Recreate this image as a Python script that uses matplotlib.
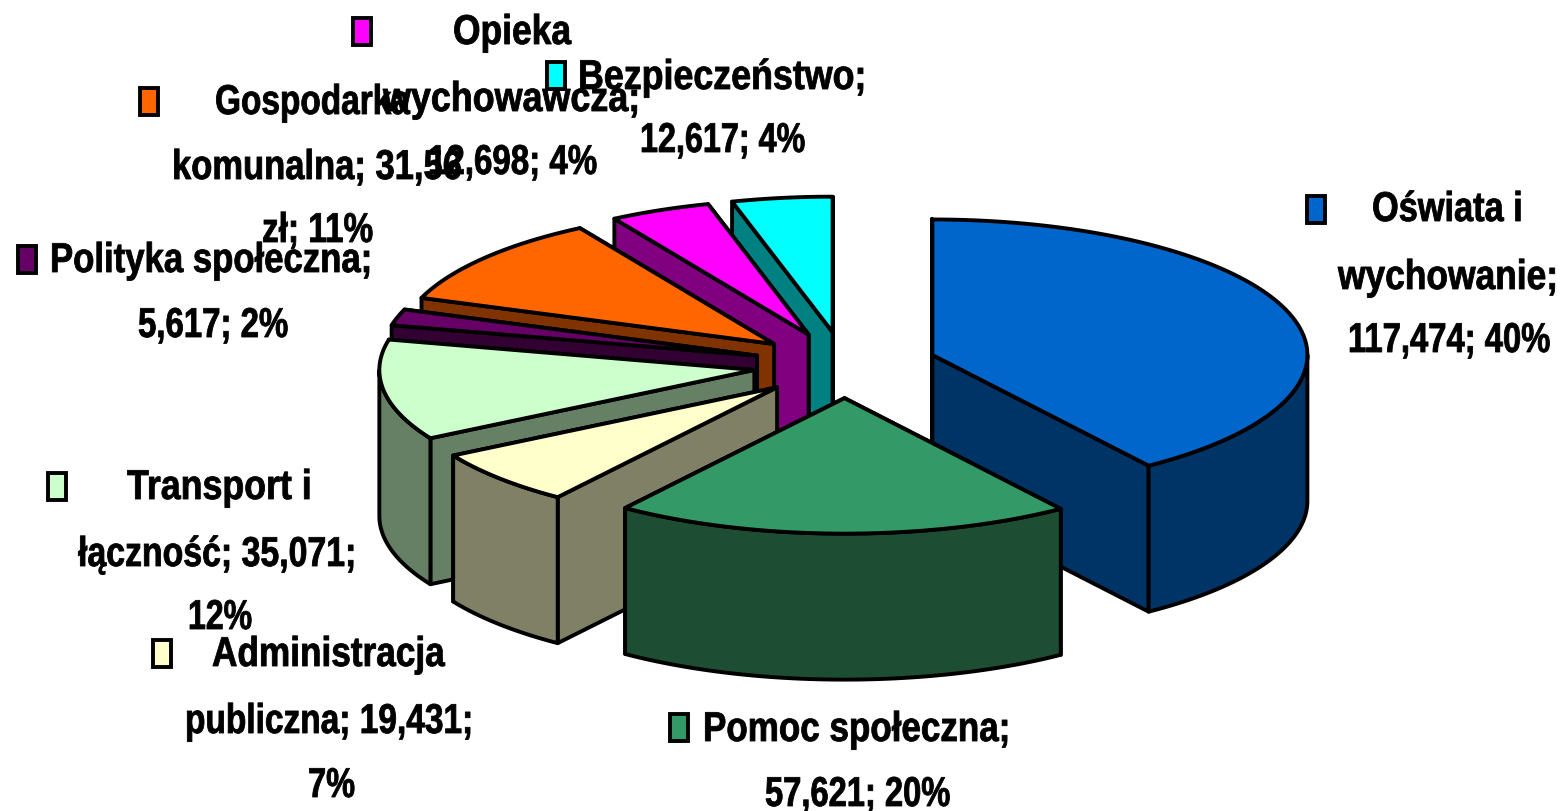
import numpy as np
import matplotlib
matplotlib.use("Agg")
import matplotlib.pyplot as plt
from matplotlib.patches import Polygon, Rectangle
from matplotlib.patheffects import AbstractPathEffect
from matplotlib.transforms import Affine2D

# ---- data ----
categories = ["Oświata i wychowanie", "Pomoc społeczna", "Administracja publiczna",
              "Transport i łączność", "Polityka społeczna", "Gospodarka komunalna",
              "Opieka wychowawcza", "Bezpieczeństwo"]
values = [117474, 57621, 19431, 35071, 5617, 31560, 12698, 12617]
top_colors = ["#0066CC", "#339966", "#FFFFCC", "#CCFFCC", "#660066", "#FF6600", "#FF00FF", "#00FFFF"]
side_colors = ["#003366", "#1D4D33", "#808066", "#668066", "#330033", "#803300", "#800080", "#008080"]
label_lines = [
    ["Oświata i", "wychowanie;", "117,474; 40%"],
    ["Pomoc społeczna;", "57,621; 20%"],
    ["Administracja", "publiczna; 19,431;", "7%"],
    ["Transport i", "łączność; 35,071;", "12%"],
    ["Polityka społeczna;", "5,617; 2%"],
    ["Gospodarka", "komunalna; 31,56", "zł; 11%"],
    ["Opieka", "wychowawcza;", "12,698; 4%"],
    ["Bezpieczeństwo;", "12,617; 4%"],
]
# ---- layout: (left px, right px, vertical centre px) of each text line ----
line_span = [
    [(1372, 1523, 210), (1338, 1558, 278), (1348, 1550, 341)],
    [(703, 1010, 730), (765, 950, 795)],
    [(212, 445, 655), (185, 473, 722), (308, 355, 786)],
    [(127, 312, 488), (78, 356, 555), (188, 252, 618)],
    [(50, 372, 261), (138, 288, 326)],
    [(215, 410, 103), (172, 462, 168), (262, 373, 231)],
    [(453, 571, 33), (383, 640, 100), (428, 597, 163)],
    [(578, 866, 78), (640, 805, 141)],
]
key_xy = [(1307, 196), (670, 714), (153, 640), (48, 473), (18, 246), (140, 88), (353, 18), (547, 62)]
CX, CY, RX, RY, DEPTH, EXPLODE = 845, 365, 375, 135.5, 146, 0.2445
LW = 2.8
FONT_PT = 30


class Condense(AbstractPathEffect):
    """Squeeze a text horizontally about its centre so that it fills a given width."""

    def __init__(self, text, target_width):
        super().__init__()
        self.text = text
        self.target = target_width

    def draw_path(self, renderer, gc, tpath, affine, rgbFace=None):
        box = self.text.get_window_extent(renderer)
        c = (box.x0 + box.x1) / 2
        s = self.target / box.width
        squeeze = Affine2D().translate(-c, 0).scale(s, 1).translate(c, 0)
        gc0 = renderer.new_gc()
        gc0.copy_properties(gc)
        gc0.set_linewidth(0.6)
        gc0.set_foreground("black")
        renderer.draw_path(gc0, tpath, affine + squeeze, rgbFace)
        gc0.restore()


fig = plt.figure(figsize=(15.65, 8.11), dpi=100)
ax = fig.add_axes([0, 0, 1, 1])
ax.set_xlim(0, 1565)
ax.set_ylim(811, 0)
ax.axis("off")

fractions = np.array(values, dtype=float) / np.sum(values)
edges = np.concatenate([[0], np.cumsum(fractions) * 2 * np.pi])


def rim(tx, ty, th):
    return np.column_stack([tx + RX * np.sin(th), ty - RY * np.cos(th)])


def face(pts, color, z):
    ax.add_patch(Polygon(pts, closed=True, facecolor=color, edgecolor="black",
                         linewidth=LW, joinstyle="round", zorder=z))


order = [7, 6, 5, 4, 3, 2, 0, 1]
for rank, i in enumerate(order):
    a0, a1 = edges[i], edges[i + 1]
    mid = (a0 + a1) / 2
    tx = CX + EXPLODE * RX * np.sin(mid)
    ty = CY - EXPLODE * RY * np.cos(mid)
    z = 2 + rank
    down = np.array([0, DEPTH])
    tip = np.array([tx, ty])
    for a in (a1, a0) if i > 1 else (a0, a1):
        p = rim(tx, ty, np.array([a]))[0]
        face([tip, p, p + down, tip + down], side_colors[i], z)
    w0, w1 = max(a0, np.pi / 2), min(a1, 3 * np.pi / 2)
    if w1 > w0:
        arc = rim(tx, ty, np.linspace(w0, w1, 80))
        face(np.vstack([arc, (arc + down)[::-1]]), side_colors[i], z)
    arc = rim(tx, ty, np.linspace(a0, a1, 120))
    face(np.vstack([tip, arc]), top_colors[i], z)

for i, lines in enumerate(label_lines):
    for s, (x0, x1, y) in zip(lines, line_span[i]):
        t = ax.text((x0 + x1) / 2, y, s, ha="center", va="center", fontsize=FONT_PT,
                    fontweight="bold", family="Liberation Sans", color="black", zorder=20)
        t.set_path_effects([Condense(t, x1 - x0)])
    kx, ky = key_xy[i]
    ax.add_patch(Rectangle((kx, ky), 18, 27, facecolor=top_colors[i], edgecolor="black",
                           linewidth=LW, zorder=21))

fig.savefig("out.png", dpi=100, facecolor="white")
